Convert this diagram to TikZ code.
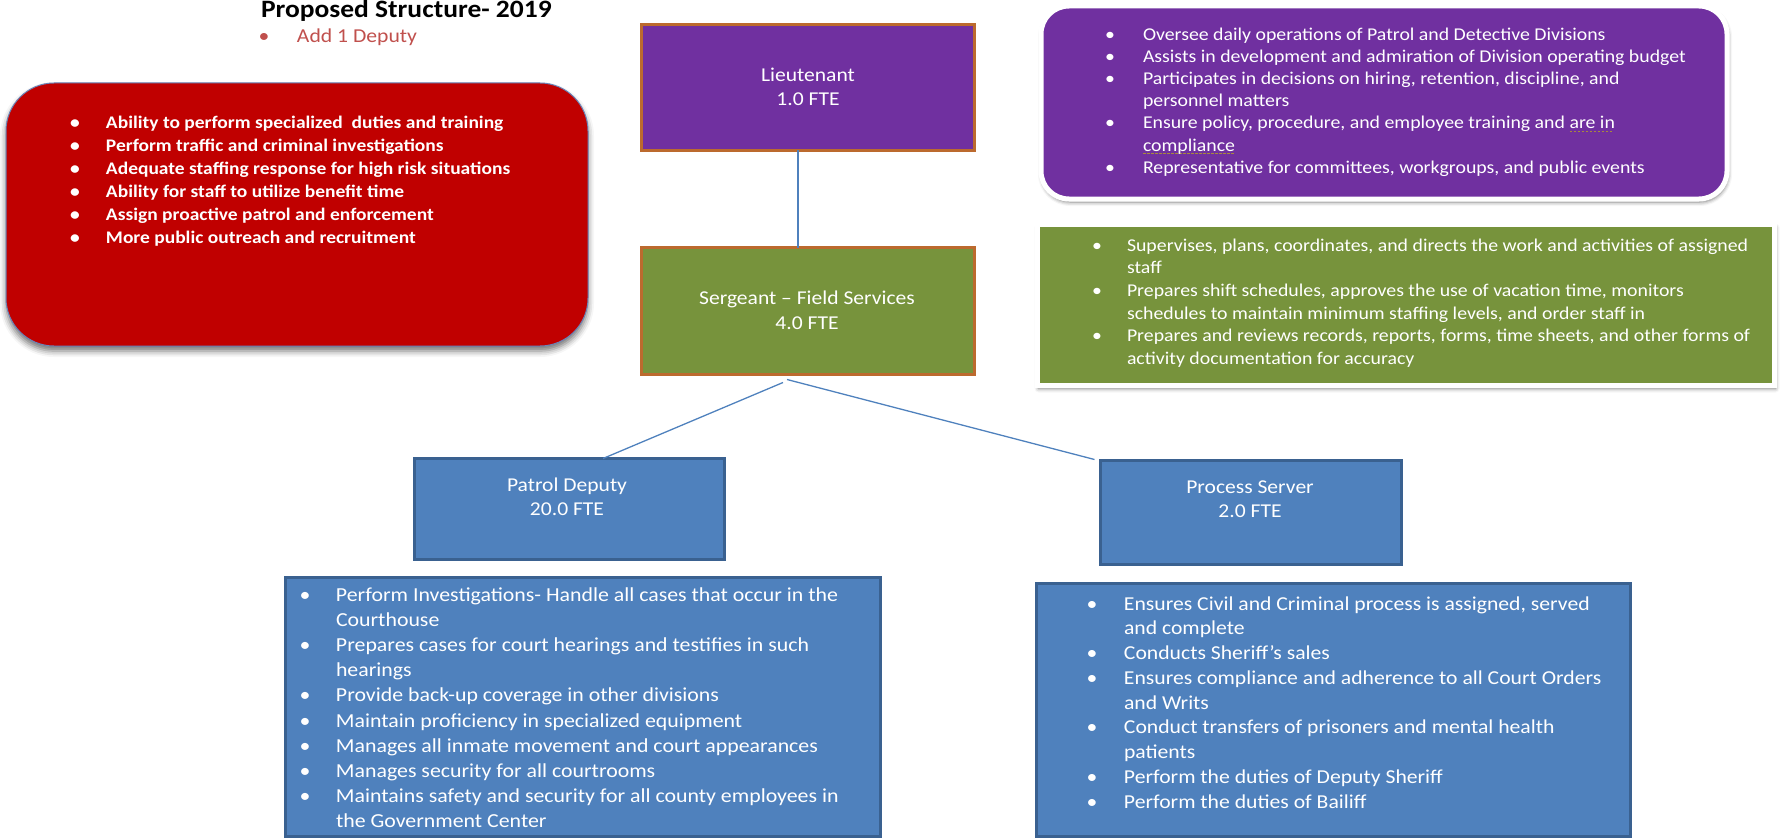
\documentclass[tikz,border=0pt]{standalone}
\usepackage{fontspec}
\setmainfont{Carlito}[FakeStretch=1.1]
\usetikzlibrary{calc,shadows.blur}
\definecolor{redbox}{HTML}{C00000}
\definecolor{purp}{HTML}{7030A0}
\definecolor{grn}{HTML}{77933C}
\definecolor{blu}{HTML}{4F81BD}
\definecolor{bluedge}{HTML}{3A6190}
\definecolor{orng}{HTML}{BC6A2E}
\definecolor{addred}{HTML}{C0504D}
\definecolor{errc}{HTML}{A8883C}
\definecolor{redline}{HTML}{6A84B8}
\newcommand\bu[1]{\makebox[#1][l]{\makebox[0pt]{\textbullet}}}
\newcommand\gerr[1]{\setbox0=\hbox{#1}\rlap{\textcolor{errc}{\raisebox{-3.5pt}{\hbox to \wd0{\leaders\hbox{\rule{2.5pt}{1.2pt}\hspace{1.5pt}}\hfill}}}}\box0}
\newcommand\fsz[2]{\fontsize{#1}{#2}\selectfont}
\begin{document}
\begin{tikzpicture}[x=1pt,y=-1pt,
  every node/.style={inner sep=0pt, outer sep=0pt},
  rolebox/.style={draw=orng, line width=3pt, rectangle},
  bluebox/.style={draw=bluedge, fill=blu, line width=3pt, rectangle},
  roletext/.style={anchor=base, align=center, text=white, font=\fsz{19.6}{24.5}},
  listtext/.style={anchor=base west, align=left, text=white},
  conn/.style={draw=blu, line width=1.3pt},
  softshadow/.style={blur shadow={shadow xshift=1pt, shadow yshift=-3pt, shadow blur radius=4pt, shadow opacity=55}}]
\useasboundingbox (0,0) rectangle (1780,840);

% header
\node[anchor=base west, font=\fsz{25}{30}\bfseries] (title) at (261,18) {Proposed Structure- 2019};
\node[anchor=base west, text=addred, font=\fsz{19.7}{24}] (add) at (264,43) {\bu{33pt}Add 1 Deputy};

% red box (anchor = baseline of last line)
\node[draw=redline, line width=1pt, fill=redbox, rounded corners=48pt, minimum width=582pt, minimum height=263pt,
  blur shadow={shadow xshift=0pt, shadow yshift=-5pt, shadow blur radius=6pt, shadow opacity=55}] (red) at (297,214.5) {};
\node[listtext, font=\fsz{17.7}{23}\bfseries] (redt) at (75,243) {%
\bu{31pt}Ability to perform specialized\ \ duties and training\\
\bu{31pt}Perform traffic and criminal investigations\\
\bu{31pt}Adequate staffing response for high risk situations\\
\bu{31pt}Ability for staff to utilize benefit time\\
\bu{31pt}Assign proactive patrol and enforcement\\
\bu{31pt}More public outreach and recruitment};

% purple description
\node[draw=white, line width=5pt, fill=purp, rounded corners=28pt, minimum width=686pt, minimum height=193pt,
  softshadow] (pd1) at (1384,102.5) {};
\node[listtext, font=\fsz{18}{22.2}] (pdt) at (1110,173.2) {%
\bu{33pt}Oversee daily operations of Patrol and Detective Divisions\\
\bu{33pt}Assists in development and admiration of Division operating budget\\
\bu{33pt}Participates in decisions on hiring, retention, discipline, and\\
\hspace*{33pt}personnel matters\\
\bu{33pt}Ensure policy, procedure, and employee training and \gerr{are in}\\
\hspace*{33pt}\gerr{compliance}\\
\bu{33pt}Representative for committees, workgroups, and public events};

% green description
\node[draw=white, line width=5pt, fill=grn, minimum width=737pt, minimum height=161pt,
  softshadow] (gd) at (1406,305) {};
\node[listtext, font=\fsz{18}{22.7}] (gdt) at (1097,364.5) {%
\bu{30pt}Supervises, plans, coordinates, and directs the work and activities of assigned\\
\hspace*{30pt}staff\\
\bu{30pt}Prepares shift schedules, approves the use of vacation time, monitors\\
\hspace*{30pt}schedules to maintain minimum staffing levels, and order staff in\\
\bu{30pt}Prepares and reviews records, reports, forms, time sheets, and other forms of\\
\hspace*{30pt}activity documentation for accuracy};

% role boxes
\node[rolebox, fill=purp, minimum width=333pt, minimum height=126pt] (lt) at (808,87.5) {};
\node[roletext] (ltt) at (808,106) {Lieutenant\\1.0 FTE};
\node[rolebox, fill=grn, minimum width=333pt, minimum height=127pt] (sg) at (808,311) {};
\node[roletext] (sgt) at (807,329) {Sergeant -- Field Services\\4.0 FTE};
\node[bluebox, minimum width=310pt, minimum height=101pt] (pd) at (569,509) {};
\node[roletext] (pdtt) at (567,515.5) {Patrol Deputy\\20.0 FTE};
\node[bluebox, minimum width=301pt, minimum height=104pt] (ps) at (1251,512.5) {};
\node[roletext] (pst) at (1250,517.5) {Process Server\\2.0 FTE};

% connectors
\draw[conn] ($(lt.south)+(-10,0)$) -- ($(sg.north)+(-10,0)$);
\draw[conn] ($(sg.south)+(-25,8)$) -- ($(pd.north)+(34,0)$);
\draw[conn] ($(sg.south)+(-21,5)$) -- ($(ps.north west)+(-6,-1)$);

% lists
\node[bluebox, minimum width=595pt, minimum height=259pt] (pl) at (583,707) {};
\node[listtext, font=\fsz{19.85}{25.2}] (plt) at (305,827.8) {%
\bu{31pt}Perform Investigations- Handle all cases that occur in the\\
\hspace*{31pt}Courthouse\\
\bu{31pt}Prepares cases for court hearings and testifies in such\\
\hspace*{31pt}hearings\\
\bu{31pt}Provide back-up coverage in other divisions\\
\bu{31pt}Maintain proficiency in specialized equipment\\
\bu{31pt}Manages all inmate movement and court appearances\\
\bu{31pt}Manages security for all courtrooms\\
\bu{31pt}Maintains safety and security for all county employees in\\
\hspace*{31pt}the Government Center};
\node[bluebox, minimum width=594pt, minimum height=253pt] (pl2) at (1333.5,710) {};
\node[listtext, font=\fsz{19.7}{24.75}] (pl2t) at (1092,808) {%
\bu{32pt}Ensures Civil and Criminal process is assigned, served\\
\hspace*{32pt}and complete\\
\bu{32pt}Conducts Sheriff’s sales\\
\bu{32pt}Ensures compliance and adherence to all Court Orders\\
\hspace*{32pt}and Writs\\
\bu{32pt}Conduct transfers of prisoners and mental health\\
\hspace*{32pt}patients\\
\bu{32pt}Perform the duties of Deputy Sheriff\\
\bu{32pt}Perform the duties of Bailiff};
\end{tikzpicture}
\end{document}
